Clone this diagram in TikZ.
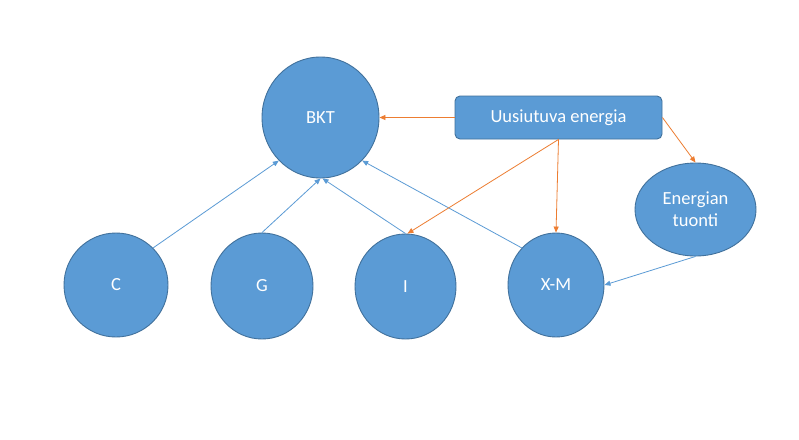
\documentclass[tikz,border=0pt]{standalone}
\usepackage{fontspec}
\setmainfont{Carlito}
\usetikzlibrary{shapes.geometric,arrows.meta}
\definecolor{ofill}{HTML}{5B9BD5}
\definecolor{oline}{HTML}{41719C}
\definecolor{oorange}{HTML}{ED7D31}
\begin{document}
\begin{tikzpicture}[x=1pt,y=-1pt,
  bub/.style={ellipse,draw=oline,line width=0.9pt,fill=ofill,inner sep=0pt,text=white,
    font=\fontsize{18.5}{22}\selectfont,align=center},
  boxn/.style={rectangle,rounded corners=5pt,draw=oline,line width=0.9pt,fill=ofill,text=white,
    font=\fontsize{18.5}{22}\selectfont,minimum width=207pt,minimum height=43pt,inner sep=0pt},
  barrow/.style={draw=ofill,line width=0.8pt,-{Triangle[length=6pt,width=5pt]}},
  oarrow/.style={draw=oorange,line width=0.8pt,-{Triangle[length=6pt,width=5pt]}}]
\fill[white] (0,0) rectangle (799,439);
\useasboundingbox (0,0) rectangle (799,439);
\node[bub,minimum width=117pt,minimum height=121pt] (bkt) at (320.5,117.5) {BKT};
\node[bub,minimum width=104pt,minimum height=104pt] (c) at (116,285) {C};
\node[bub,minimum width=102pt,minimum height=106pt] (g) at (262,286) {G};
\node[bub,minimum width=101pt,minimum height=105pt] (i) at (405.5,286.5) {I};
\node[bub,minimum width=96pt,minimum height=104pt] (xm) at (556,285) {X-M};
\node[bub,minimum width=121pt,minimum height=93pt] (et) at (695.5,209.5) {Energian\\tuonti};
\node[boxn] (ue) at (558.5,117.5) {Uusiutuva energia};
% blue connectors
\draw[barrow] (c.north east) -- (bkt.south west);
\draw[barrow] (g.north) -- (bkt.south);
\draw[barrow] (i.north) -- ([xshift=2pt]bkt.south);
\draw[barrow] (xm.north west) -- (bkt.south east);
\draw[barrow] (et.south) -- (xm.east);
% orange connectors
\draw[oarrow] (ue.west) -- (bkt.east);
\draw[oarrow] (ue.east) -- (et.north);
\draw[oarrow] (ue.south) -- ([xshift=2pt]i.north);
\draw[oarrow] (ue.south) -- (xm.north);
\end{tikzpicture}
\end{document}
